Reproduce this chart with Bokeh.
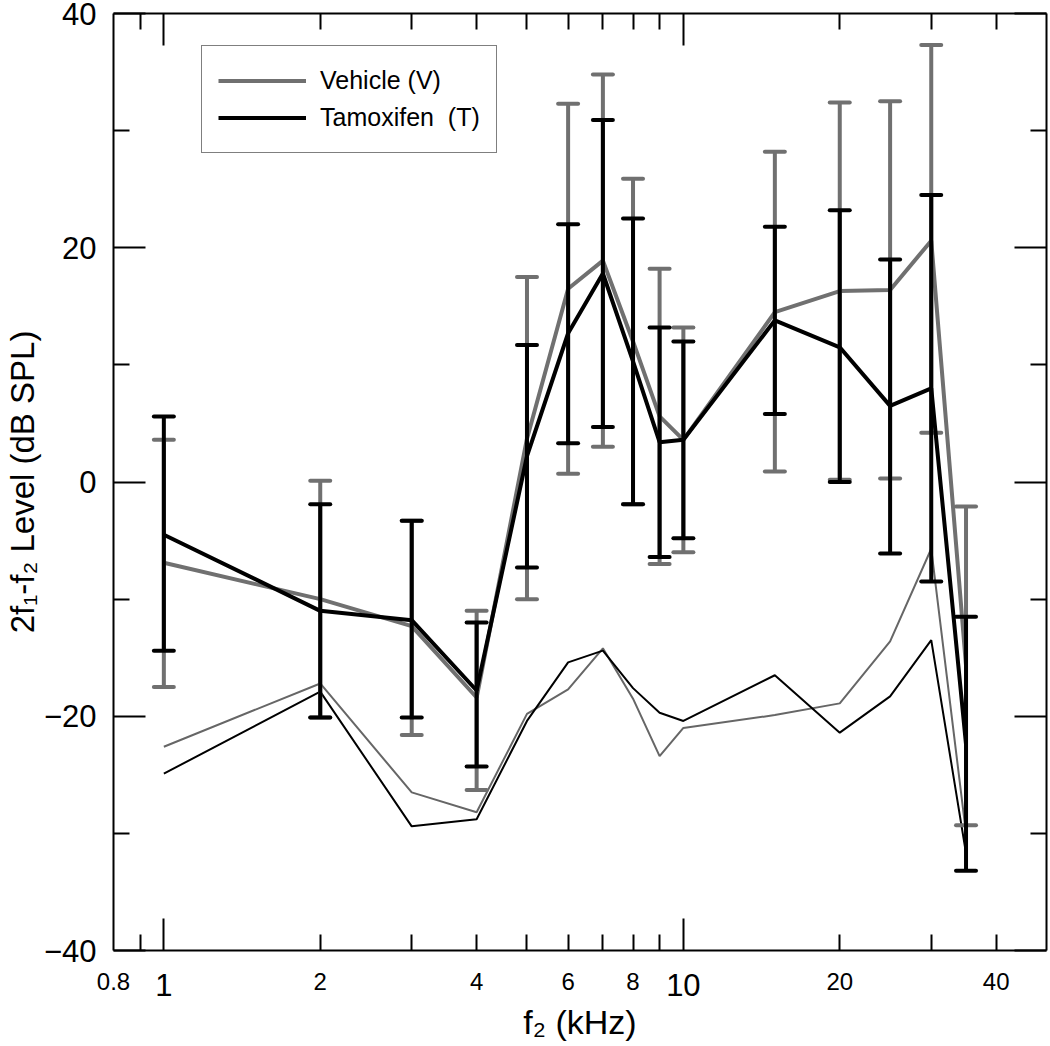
from bokeh.plotting import figure
from bokeh.models import LogAxis, LinearAxis, FixedTicker, Legend, LegendItem
from bokeh.embed import file_html
from bokeh.resources import INLINE

# ---------------- data ----------------
freq_khz = [1, 2, 3, 4, 5, 6, 7, 8, 9, 10, 15, 20, 25, 30, 35]

vehicle_mean = [-6.9, -10.0, -12.3, -18.4, 3.7, 16.5, 18.9, 12.0, 5.6, 3.6, 14.5, 16.3, 16.4, 20.6, -15.7]
vehicle_upper = [3.6, 0.1, -3.3, -11.0, 17.5, 32.3, 34.8, 25.9, 18.2, 13.2, 28.2, 32.4, 32.5, 37.3, -2.1]
vehicle_lower = [-17.5, -20.1, -21.6, -26.3, -10.0, 0.7, 3.0, -1.9, -7.0, -6.0, 0.9, 0.2, 0.3, 4.2, -29.3]

tamoxifen_mean = [-4.5, -11.0, -11.8, -17.8, 2.2, 12.7, 17.8, 10.3, 3.4, 3.6, 13.8, 11.5, 6.5, 8.0, -22.4]
tamoxifen_upper = [5.6, -1.9, -3.3, -12.0, 11.7, 22.0, 30.9, 22.5, 13.2, 12.0, 21.8, 23.2, 19.0, 24.5, -11.5]
tamoxifen_lower = [-14.4, -20.1, -20.1, -24.3, -7.3, 3.3, 4.7, -1.9, -6.4, -4.8, 5.8, 0.0, -6.1, -8.5, -33.2]

vehicle_noise = [-22.6, -17.2, -26.5, -28.2, -19.8, -17.7, -14.2, -18.5, -23.4, -21.0, -19.9, -18.9, -13.6, -5.7, -30.0]
tamoxifen_noise = [-24.9, -17.9, -29.4, -28.8, -20.4, -15.4, -14.4, -17.6, -19.7, -20.4, -16.5, -21.4, -18.3, -13.5, -31.7]

x_major_ticks = [1, 10]
x_minor_ticks = [0.9, 2, 3, 4, 5, 6, 7, 8, 9, 20, 30, 40]
x_small_labels = [0.8, 2, 4, 6, 8, 20, 40]
x_small_label_text = ["0.8", "2", "4", "6", "8", "20", "40"]
y_major_ticks = [-40, -20, 0, 20, 40]
y_minor_ticks = [-30, -10, 10, 30]

FONT = "Liberation Sans"
GRAY = "#707070"
THIN_GRAY = "#666666"
BLACK = "#000000"

p = figure(width=1049, height=1046, x_axis_type="log", x_range=(0.8, 50), y_range=(-40, 40),
           output_backend="svg", toolbar_location=None,
           min_border_left=112, min_border_right=1, min_border_top=13, min_border_bottom=96)
p.xgrid.visible = False
p.ygrid.visible = False
p.outline_line_color = None
p.background_fill_color = "white"
p.border_fill_color = "white"


def style_axis(ax, major, minor):
    ax.ticker = FixedTicker(ticks=major, minor_ticks=minor)
    ax.major_tick_in = 32
    ax.major_tick_out = 0
    ax.minor_tick_in = 16
    ax.minor_tick_out = 0
    ax.axis_line_width = 2
    ax.major_tick_line_width = 2
    ax.minor_tick_line_width = 2
    ax.axis_line_color = "black"
    ax.major_tick_line_color = "black"
    ax.minor_tick_line_color = "black"
    ax.major_label_text_font = FONT
    ax.axis_label_text_font = FONT
    ax.axis_label_text_font_style = "normal"
    ax.major_label_text_color = "black"
    ax.axis_label_text_color = "black"


# bottom axis: long ticks at 1 and 10 with large labels, short ticks elsewhere
xa = p.xaxis[0]
style_axis(xa, x_major_ticks, x_minor_ticks)
xa.major_label_overrides = {1: "1", 10: "10"}
xa.major_label_text_font_size = "31px"
xa.major_label_standoff = 23

# second bottom axis: the small tick labels and the axis title
xb = LogAxis()
xb.ticker = FixedTicker(ticks=x_small_labels, minor_ticks=[])
xb.major_label_overrides = dict(zip(x_small_labels, x_small_label_text))
xb.axis_line_color = None
xb.major_tick_line_color = None
xb.minor_tick_line_color = None
xb.major_tick_in = 0
xb.major_tick_out = 0
xb.minor_tick_in = 0
xb.minor_tick_out = 0
xb.major_label_text_font = FONT
xb.major_label_text_font_size = "24px"
xb.major_label_text_color = "black"
xb.major_label_standoff = -26
xb.axis_label = "f\u2082 (kHz)"
xb.axis_label_text_font = FONT
xb.axis_label_text_font_size = "34px"
xb.axis_label_text_font_style = "normal"
xb.axis_label_text_color = "black"
xb.axis_label_standoff = 10
p.add_layout(xb, "below")

# left axis
ya = p.yaxis[0]
style_axis(ya, y_major_ticks, y_minor_ticks)
ya.major_label_text_font_size = "31px"
ya.major_label_standoff = 17
ya.axis_label = "2f\u2081-f\u2082 Level (dB SPL)"
ya.axis_label_text_font_size = "33px"
ya.axis_label_standoff = 0

# mirrored axes (ticks only)
top = LogAxis()
style_axis(top, x_major_ticks, x_minor_ticks)
top.major_label_overrides = {v: " " for v in x_major_ticks}
top.major_label_text_font_size = "1px"
top.major_label_standoff = 0
p.add_layout(top, "above")

right = LinearAxis()
style_axis(right, y_major_ticks, y_minor_ticks)
right.major_label_overrides = {v: " " for v in y_major_ticks}
right.major_label_text_font_size = "1px"
right.major_label_standoff = 0
p.add_layout(right, "right")

# noise-floor (thin) lines
p.line(freq_khz, vehicle_noise, line_color=THIN_GRAY, line_width=2)
p.line(freq_khz, tamoxifen_noise, line_color=BLACK, line_width=2)

# vehicle
p.segment(x0=freq_khz, y0=vehicle_lower, x1=freq_khz, y1=vehicle_upper, line_color=GRAY, line_width=4)
p.scatter(freq_khz, vehicle_upper, marker="dash", size=20, line_color=GRAY, line_width=4, line_cap="round")
p.scatter(freq_khz, vehicle_lower, marker="dash", size=20, line_color=GRAY, line_width=4, line_cap="round")
veh_line = p.line(freq_khz, vehicle_mean, line_color=GRAY, line_width=4)

# tamoxifen
p.segment(x0=freq_khz, y0=tamoxifen_lower, x1=freq_khz, y1=tamoxifen_upper, line_color=BLACK, line_width=4)
p.scatter(freq_khz, tamoxifen_upper, marker="dash", size=20, line_color=BLACK, line_width=4, line_cap="round")
p.scatter(freq_khz, tamoxifen_lower, marker="dash", size=20, line_color=BLACK, line_width=4, line_cap="round")
tam_line = p.line(freq_khz, tamoxifen_mean, line_color=BLACK, line_width=4)

legend = Legend(items=[LegendItem(label="Vehicle (V)", renderers=[veh_line]),
                       LegendItem(label="Tamoxifen  (T)", renderers=[tam_line])],
                location=(88, 797), margin=0, padding=16, spacing=-1,
                glyph_width=88, glyph_height=37, label_height=37, label_standoff=14,
                label_text_font=FONT, label_text_font_size="25px", label_text_color="black",
                border_line_color="black", border_line_width=1.5,
                background_fill_color="white", background_fill_alpha=1.0)
p.add_layout(legend)

open("out.html", "w").write(file_html(p, INLINE))
